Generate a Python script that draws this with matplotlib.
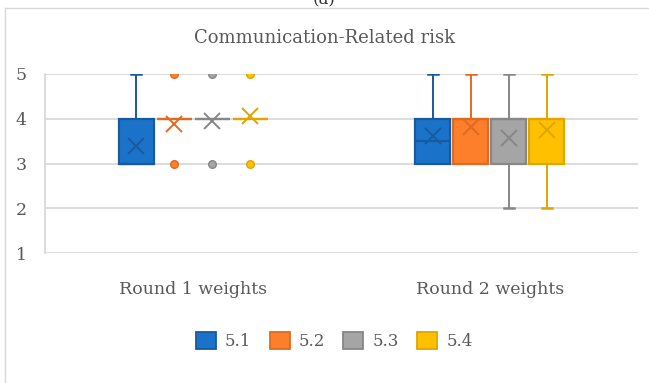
#!/usr/bin/env python3
"""Box plot of Communication-Related risk weights, two rounds."""

import matplotlib

matplotlib.use("Agg")
import matplotlib.pyplot as plt
from matplotlib.lines import Line2D
from matplotlib.patches import Patch

# Data
categories = ["Round 1 weights", "Round 2 weights"]
series = ["5.1", "5.2", "5.3", "5.4"]
y_ticks = [1, 2, 3, 4, 5]

# per series: values for [round 1, round 2]
q1 = {"5.1": [3, 3], "5.2": [4, 3], "5.3": [4, 3], "5.4": [4, 3]}
q3 = {"5.1": [4, 4], "5.2": [4, 4], "5.3": [4, 4], "5.4": [4, 4]}
medians = {"5.1": [3, 3.5], "5.2": [4, 4], "5.3": [4, 4], "5.4": [4, 4]}
whisker_low = {"5.1": [3, 3], "5.2": [4, 3], "5.3": [4, 2], "5.4": [4, 2]}
whisker_high = {"5.1": [5, 5], "5.2": [4, 5], "5.3": [4, 5], "5.4": [4, 5]}
means = {"5.1": [3.38, 3.62], "5.2": [3.88, 3.81], "5.3": [3.94, 3.56], "5.4": [4.06, 3.75]}
outliers = {"5.1": [[], []], "5.2": [[3, 5], []], "5.3": [[3, 5], []], "5.4": [[3, 5], []]}

fills = {"5.1": "#1a73c9", "5.2": "#fd7e2b", "5.3": "#a5a5a5", "5.4": "#ffc000"}
edges = {"5.1": "#175aa0", "5.2": "#e06a22", "5.3": "#878787", "5.4": "#e0a500"}

FONT = "DejaVu Serif"
TEXT = "#595959"
GRID = "#d9d9d9"

fig = plt.figure(figsize=(6.49, 3.83), dpi=100)
ax = fig.add_axes([45 / 649, 1 - 253 / 383, 593 / 649, 179 / 383])

# outer chart frame (right/bottom run off the image)
frame_x = 5 / 649
frame_y = 1 - 8 / 383
fig.add_artist(Line2D([frame_x, frame_x], [0, frame_y], transform=fig.transFigure,
                      color=GRID, linewidth=1.0))
fig.add_artist(Line2D([frame_x, 1], [frame_y, frame_y], transform=fig.transFigure,
                      color=GRID, linewidth=1.0))
# panel caption, cropped at the top edge as in the source
fig.text(0.5, 1.0, "(a)", ha="center", va="center", fontsize=12,
         family=FONT, color="#333333")

gap = 0.128
width = 0.117
for j, s in enumerate(series):
    offset = (j - 1.5) * gap
    stats = []
    for i in range(len(categories)):
        stats.append({
            "q1": q1[s][i], "q3": q3[s][i], "med": medians[s][i],
            "whislo": whisker_low[s][i], "whishi": whisker_high[s][i],
            "mean": means[s][i], "fliers": outliers[s][i],
        })
    parts = ax.bxp(
        stats,
        positions=[i + offset for i in range(len(categories))],
        widths=width,
        capwidths=0.034,
        patch_artist=True,
        showmeans=True,
        boxprops=dict(facecolor=fills[s], edgecolor=edges[s], linewidth=1.6),
        medianprops=dict(color=edges[s], linewidth=1.6),
        whiskerprops=dict(color=edges[s], linewidth=1.4),
        capprops=dict(color=edges[s], linewidth=1.8),
        meanprops=dict(marker="x", markersize=11, markeredgewidth=1.4,
                       markeredgecolor=edges[s]),
        flierprops=dict(marker="o", markersize=5.5, markerfacecolor=fills[s],
                        markeredgecolor=edges[s], markeredgewidth=1.0),
        zorder=3,
    )
    # no cap where the whisker has zero length
    for whisker, cap in zip(parts["whiskers"], parts["caps"]):
        ys = whisker.get_ydata()
        if ys[0] == ys[1]:
            cap.set_visible(False)
            whisker.set_visible(False)

ax.set_xlim(-0.5, 1.5)
ax.set_ylim(1, 5)
ax.set_yticks(y_ticks)
ax.set_xticks(range(len(categories)))
ax.set_xticklabels(categories)
ax.yaxis.grid(True, color=GRID, linewidth=1.3, zorder=0)
ax.set_axisbelow(True)
for side in ["top", "right", "bottom"]:
    ax.spines[side].set_visible(False)
ax.spines["left"].set_color(GRID)
ax.spines["left"].set_linewidth(1.3)
ax.tick_params(axis="both", length=0, labelsize=12.5, labelcolor=TEXT)
ax.tick_params(axis="x", pad=20)
ax.tick_params(axis="y", pad=13)
for lbl in ax.get_xticklabels() + ax.get_yticklabels():
    lbl.set_family(FONT)

fig.text(0.5, 1 - 38 / 383, "Communication-Related risk", ha="center",
         va="center", fontsize=13, family=FONT, color=TEXT)

handles = [Patch(facecolor=fills[s], edgecolor=edges[s], linewidth=1.3) for s in series]
fig.legend(
    handles, series, loc="center", bbox_to_anchor=(0.515, 1 - 341 / 383),
    ncol=4, frameon=False, handlelength=1.2, handleheight=1.2,
    handletextpad=0.55, columnspacing=1.1,
    prop={"family": FONT, "size": 12}, labelcolor=TEXT,
)

fig.savefig("out.png", dpi=100)
